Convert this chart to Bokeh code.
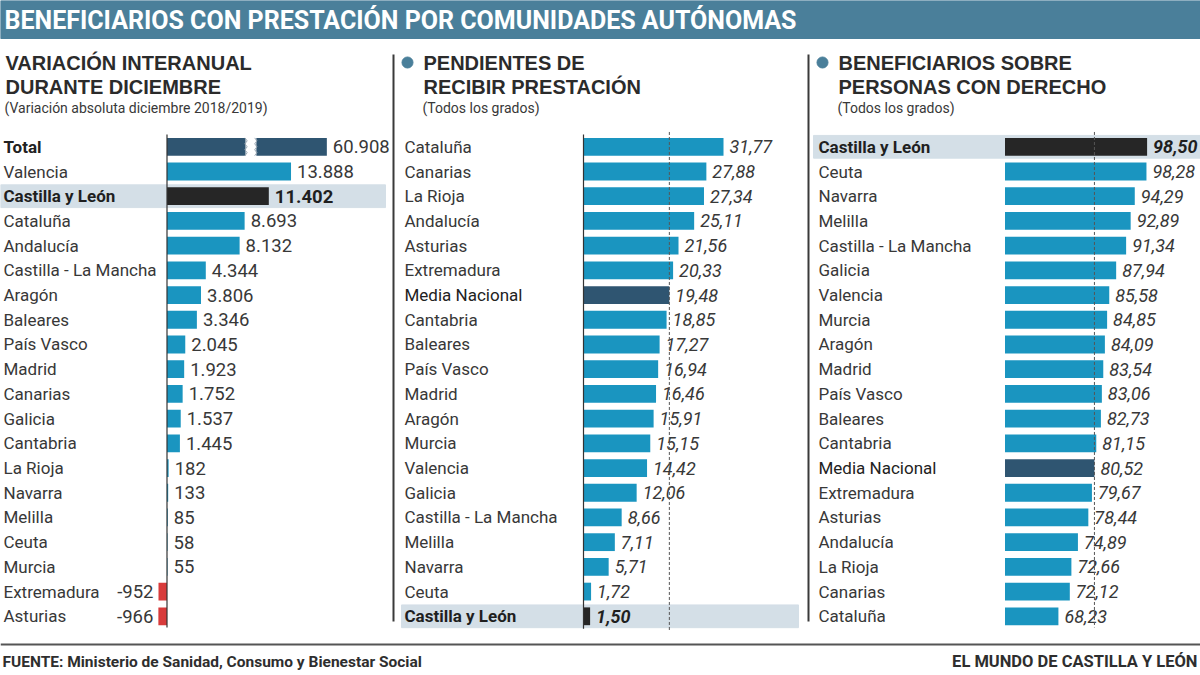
from bokeh.plotting import figure
from bokeh.models import Range1d, ColumnDataSource
from bokeh.core.properties import value
from bokeh.embed import file_html
from bokeh.resources import INLINE

# ---------------- DATA ----------------
TITLE = "BENEFICIARIOS CON PRESTACIÓN POR COMUNIDADES AUTÓNOMAS"

p1_title = ["VARIACIÓN INTERANUAL", "DURANTE DICIEMBRE"]
p1_sub = "(Variación absoluta diciembre 2018/2019)"
p1_labels = ["Total", "Valencia", "Castilla y León", "Cataluña", "Andalucía",
             "Castilla - La Mancha", "Aragón", "Baleares", "País Vasco", "Madrid",
             "Canarias", "Galicia", "Cantabria", "La Rioja", "Navarra", "Melilla",
             "Ceuta", "Murcia", "Extremadura", "Asturias"]
p1_values = [60908, 13888, 11402, 8693, 8132, 4344, 3806, 3346, 2045, 1923,
             1752, 1537, 1445, 182, 133, 85, 58, 55, -952, -966]

p2_title = ["PENDIENTES DE", "RECIBIR PRESTACIÓN"]
p2_sub = "(Todos los grados)"
p2_labels = ["Cataluña", "Canarias", "La Rioja", "Andalucía", "Asturias",
             "Extremadura", "Media Nacional", "Cantabria", "Baleares", "País Vasco",
             "Madrid", "Aragón", "Murcia", "Valencia", "Galicia",
             "Castilla - La Mancha", "Melilla", "Navarra", "Ceuta", "Castilla y León"]
p2_values = [31.77, 27.88, 27.34, 25.11, 21.56, 20.33, 19.48, 18.85, 17.27, 16.94,
             16.46, 15.91, 15.15, 14.42, 12.06, 8.66, 7.11, 5.71, 1.72, 1.50]

p3_title = ["BENEFICIARIOS SOBRE", "PERSONAS CON DERECHO"]
p3_sub = "(Todos los grados)"
p3_labels = ["Castilla y León", "Ceuta", "Navarra", "Melilla", "Castilla - La Mancha",
             "Galicia", "Valencia", "Murcia", "Aragón", "Madrid", "País Vasco",
             "Baleares", "Cantabria", "Media Nacional", "Extremadura", "Asturias",
             "Andalucía", "La Rioja", "Canarias", "Cataluña"]
p3_values = [98.50, 98.28, 94.29, 92.89, 91.34, 87.94, 85.58, 84.85, 84.09, 83.54,
             83.06, 82.73, 81.15, 80.52, 79.67, 78.44, 74.89, 72.66, 72.12, 68.23]

SOURCE = "FUENTE: Ministerio de Sanidad, Consumo y Bienestar Social"
BRAND = "EL MUNDO DE CASTILLA Y LEÓN"

# ---------------- STYLE ----------------
W, H = 1200, 675
HEADER_BG = "#4a7f9a"
BLUE = "#1a95c0"
DARK = "#2f5571"
BLACK = "#262626"
RED = "#d83b3b"
BAND = "#d4dfe7"
TXT = "#383838"
NARROW = value("Roboto")
WIDE = value("Liberation Sans")
HL = "Castilla y León"
AVG = ("Total", "Media Nacional")

P1_CAP = 17900     # broken axis: Total bar is drawn truncated
P1_BREAK = (8850, 9950)
P3_BASE = 50       # third panel axis starts at 50

# row geometry (pixels)
Y0, DY = 146.3, 24.71

p = figure(width=W, height=H, output_backend="svg", toolbar_location=None,
           x_range=Range1d(0, W), y_range=Range1d(H, 0), min_border=0,
           outline_line_color=None, background_fill_color="white",
           border_fill_color="white")
p.axis.visible = False
p.grid.visible = False

p.extra_y_ranges = {"rows": Range1d(start=(H - Y0) / DY, end=-Y0 / DY)}
# panel scales: (pixel of base, base value, px per unit)
def rng(px0, base, k):
    return Range1d(start=base - px0 / k, end=base + (W - px0) / k)
p.extra_x_ranges = {
    "p1": rng(166.5, 0, 0.00893),
    "p2": rng(583, 0, 4.407),
    "p3": rng(1004.5, P3_BASE, 2.93),
}

def color_for(lab, v):
    if lab == HL:
        return BLACK
    if lab in AVG:
        return DARK
    if v < 0:
        return RED
    return BLUE

# ---------------- HEADER ----------------
p.quad(left=0, right=W, top=0, bottom=38, color=HEADER_BG)
p.text(x=[4], y=[20], text=[TITLE], text_color="white", text_font=NARROW,
       text_font_style="bold", text_font_size="25px", text_baseline="middle")

# ---------------- PANEL TITLES ----------------
def titles(x, lines, sub, bullet=None):
    p.text(x=[x, x], y=[62, 86], text=lines, text_color="#2b2b2b", text_font=WIDE,
           text_font_style="bold", text_font_size="20px", text_baseline="middle")
    p.text(x=[x - 1], y=[107], text=[sub], text_color=TXT, text_font=NARROW,
           text_font_size="14px", text_baseline="middle")
    if bullet is not None:
        p.scatter(x=[bullet], y=[62], size=11, color=HEADER_BG, marker="circle")

titles(5, p1_title, p1_sub)
titles(423, p2_title, p2_sub, bullet=407)
titles(838, p3_title, p3_sub, bullet=822)

# separators
p.segment(x0=[393, 808], x1=[393, 808], y0=[54, 54], y1=[621, 621],
          line_color="#3a3a3a", line_width=2)

# ---------------- PANELS ----------------
def fmt_int(v):
    s = f"{abs(v):,}".replace(",", ".")
    return ("-" if v < 0 else "") + s

def fmt_dec(v):
    return f"{v:.2f}".replace(".", ",")

def panel(name, labels, values, label_x, band, fmt, base=0, cap=None, italic=False,
          vsize="19px"):
    rows = list(range(len(labels)))
    shown = [min(v, cap) if cap else v for v in values]
    colors = [color_for(l, v) for l, v in zip(labels, values)]
    # highlight band
    hi = [i for i, l in enumerate(labels) if l == HL]
    p.hbar(y=hi, left=band[0], right=band[1], height=0.92, color=BAND,
           y_range_name="rows")
    # bars
    src = ColumnDataSource(dict(y=rows, left=[base] * len(rows), right=shown, c=colors))
    p.hbar(y="y", left="left", right="right", height=0.72, fill_color="c",
           line_color=None, source=src, x_range_name=name, y_range_name="rows")
    # labels
    normal = [i for i, l in enumerate(labels) if l != HL and l not in AVG]
    p.text(x=[label_x] * len(normal), y=normal, text=[labels[i] for i in normal],
           text_font=NARROW, text_font_size="17px", text_color=TXT,
           text_baseline="middle", y_range_name="rows")
    p.text(x=[label_x] * len(hi), y=hi, text=[labels[i] for i in hi],
           text_font=NARROW, text_font_style="bold", text_font_size="17px",
           text_color="#1f1f1f", text_baseline="middle", y_range_name="rows")
    av = [i for i, l in enumerate(labels) if l in AVG]
    p.text(x=[label_x] * len(av), y=av, text=[labels[i] for i in av],
           text_font=NARROW, text_font_size="17px",
           text_font_style="bold" if labels[av[0]] == "Total" else "normal",
           text_color="#222222", text_baseline="middle", y_range_name="rows")
    # value labels
    style_n = "italic" if italic else "normal"
    style_b = "bold italic" if italic else "bold"
    pos = [i for i, v in enumerate(values) if v >= 0]
    neg = [i for i, v in enumerate(values) if v < 0]
    regular = [i for i in pos if labels[i] != HL]
    p.text(x=[shown[i] for i in regular], y=regular, text=[fmt(values[i]) for i in regular],
           x_offset=6, text_font=NARROW, text_font_style=style_n, text_font_size=vsize,
           text_color=TXT, text_baseline="middle", x_range_name=name, y_range_name="rows")
    p.text(x=[shown[i] for i in hi], y=hi, text=[fmt(values[i]) for i in hi],
           x_offset=6, text_font=NARROW, text_font_style=style_b, text_font_size=vsize,
           text_color="#1f1f1f", text_baseline="middle", x_range_name=name, y_range_name="rows")
    if neg:
        p.text(x=[shown[i] for i in neg], y=neg, text=[fmt(values[i]) for i in neg],
               x_offset=-5, text_align="right", text_font=NARROW, text_font_size=vsize,
               text_color=TXT, text_baseline="middle", x_range_name=name, y_range_name="rows")
    return rows

# panel 1
r1 = panel("p1", p1_labels, p1_values, 3, (0, 385), fmt_int, cap=P1_CAP, vsize="18.5px")
p.segment(x0=[0], x1=[0], y0=[-0.5], y1=[19.45], line_color="#333333", line_width=1.2,
          x_range_name="p1", y_range_name="rows")
# axis break on the Total bar
ti = p1_labels.index("Total")
p.quad(left=P1_BREAK[0], right=P1_BREAK[1], top=ti - 0.4, bottom=ti + 0.4,
       color="white", x_range_name="p1", y_range_name="rows")
wy = [ti - 0.36 + k * 0.12 for k in range(7)]
for xb in P1_BREAK:
    wx = [xb + (130 if k % 2 else -130) for k in range(7)]
    p.line(x=wx, y=wy, line_color="#9aa7b2", line_width=1,
           x_range_name="p1", y_range_name="rows")

# panel 2
r2 = panel("p2", p2_labels, p2_values, 404, (401, 798), fmt_dec, italic=True, vsize="18px")
p.segment(x0=[0], x1=[0], y0=[-0.5], y1=[19.5], line_color="#333333", line_width=1.2,
          x_range_name="p2", y_range_name="rows")
avg2 = p2_values[p2_labels.index("Media Nacional")]
p.segment(x0=[avg2], x1=[avg2], y0=[-0.6], y1=[19.6], line_color="#555555",
          line_width=1, line_dash="3 2", x_range_name="p2", y_range_name="rows")

# panel 3
r3 = panel("p3", p3_labels, p3_values, 818, (813, 1200), fmt_dec, base=P3_BASE,
           italic=True, vsize="18px")
avg3 = p3_values[p3_labels.index("Media Nacional")]
p.segment(x0=[avg3], x1=[avg3], y0=[-0.6], y1=[19.45], line_color="#555555",
          line_width=1, line_dash="3 2", x_range_name="p3", y_range_name="rows")

# ---------------- FOOTER ----------------
p.segment(x0=[0], x1=[W], y0=[644], y1=[644], line_color="#555555", line_width=2)
p.text(x=[2], y=[661], text=[SOURCE], text_font=NARROW,
       text_font_style="bold", text_font_size="15.5px", text_color="#2e2e2e",
       text_baseline="middle")
p.text(x=[1197], y=[661], text=[BRAND], text_align="right", text_font=NARROW,
       text_font_style="bold", text_font_size="16.5px", text_color="#2e2e2e",
       text_baseline="middle")

open("out.html", "w").write(file_html(p, INLINE))
